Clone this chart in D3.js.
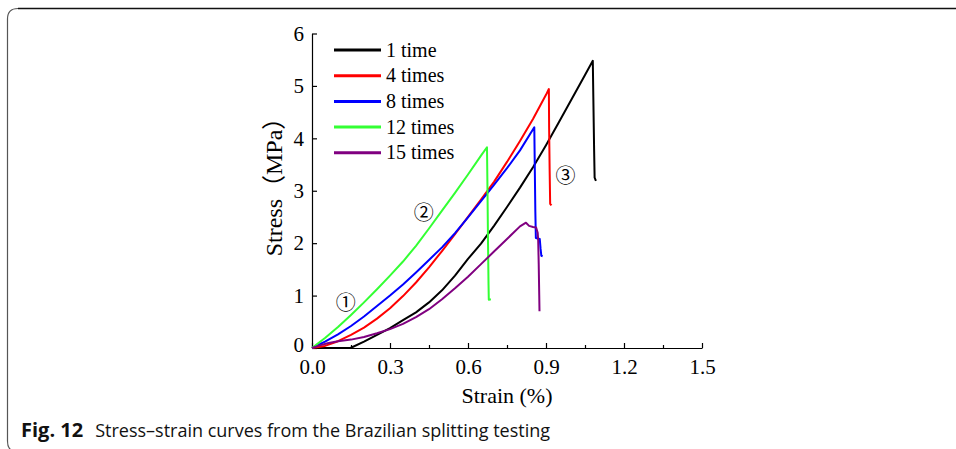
<!DOCTYPE html>
<meta charset="utf-8">
<style>
body { margin: 0; background: #fff; }
.axis text, .axis-title, .legend text { font-family: "Liberation Serif", "Noto Sans CJK SC", serif; fill: #000; }
.axis path, .axis line { stroke: #000; stroke-width: 1.2px; }
.mark { font-family: "Noto Sans CJK SC", "DejaVu Sans", sans-serif; font-size: 20px; fill: #000; }
.caption { font-family: "Open Sans", "Noto Sans", sans-serif; font-size: 18px; fill: #111; }
</style>
<svg width="956" height="449"></svg>
<script src="https://d3js.org/d3.v7.min.js"></script>
<script>
// series: [strain (%), stress (MPa)]
var time1 = [[0,0],[0.148,0],[0.2,0.12],[0.25,0.25],[0.3,0.38],[0.35,0.53],[0.4,0.68],[0.45,0.87],[0.5,1.1],[0.55,1.38],[0.6,1.7],[0.65,1.99],[0.7,2.33],[0.75,2.69],[0.8,3.06],[0.85,3.45],[0.9,3.87],[0.95,4.31],[1.0,4.76],[1.05,5.21],[1.08,5.48],[1.082,4.8],[1.085,3.8],[1.087,3.25],[1.092,3.19]];
var times4 = [[0,0],[0.05,0.04],[0.1,0.13],[0.15,0.25],[0.2,0.39],[0.25,0.56],[0.3,0.76],[0.35,0.99],[0.4,1.25],[0.45,1.54],[0.5,1.85],[0.55,2.17],[0.6,2.5],[0.65,2.83],[0.7,3.17],[0.75,3.55],[0.8,3.95],[0.85,4.37],[0.9,4.83],[0.911,4.94],[0.912,4.2],[0.914,3.4],[0.916,2.75],[0.921,2.72]];
var times8 = [[0,0],[0.05,0.12],[0.1,0.26],[0.15,0.42],[0.2,0.6],[0.25,0.8],[0.3,1.0],[0.35,1.21],[0.4,1.44],[0.45,1.68],[0.5,1.92],[0.55,2.19],[0.6,2.49],[0.65,2.8],[0.7,3.11],[0.75,3.43],[0.8,3.77],[0.855,4.21],[0.857,3.4],[0.859,2.6],[0.861,2.1],[0.876,2.08],[0.879,1.9],[0.882,1.76],[0.887,1.75]];
var times12 = [[0,0],[0.05,0.19],[0.1,0.4],[0.15,0.63],[0.2,0.87],[0.25,1.12],[0.3,1.38],[0.35,1.65],[0.4,1.95],[0.45,2.28],[0.5,2.62],[0.55,2.96],[0.6,3.31],[0.65,3.67],[0.673,3.83],[0.675,3.0],[0.677,2.0],[0.679,1.2],[0.68,0.92],[0.688,0.93]];
var times15 = [[0,0],[0.03,0.05],[0.06,0.09],[0.1,0.13],[0.15,0.16],[0.2,0.21],[0.25,0.28],[0.3,0.36],[0.35,0.46],[0.4,0.59],[0.45,0.74],[0.5,0.93],[0.55,1.14],[0.6,1.36],[0.65,1.6],[0.7,1.84],[0.75,2.08],[0.8,2.32],[0.823,2.39],[0.835,2.33],[0.85,2.31],[0.862,2.3],[0.868,2.2],[0.87,2.05],[0.872,1.6],[0.874,1.0],[0.875,0.7]];

var seriesNames = ["1 time", "4 times", "8 times", "12 times", "15 times"];
var seriesColors = ["#000000", "#ff0000", "#0000ff", "#33ff33", "#800080"];
var seriesData = [time1, times4, times8, times12, times15];

var xTicks = [0, 0.3, 0.6, 0.9, 1.2, 1.5];
var xMinor = [0.15, 0.45, 0.75, 1.05, 1.35];
var yTicks = [0, 1, 2, 3, 4, 5, 6];

// stage labels: [strain, stress, text]
var stageMarks = [[0.13, 0.85, "①"], [0.43, 2.57, "②"], [0.975, 3.28, "③"]];

var svg = d3.select("svg");

// card frame, only top & left edges are inside the picture
svg.append("path")
    .attr("d", "M 7.5 441 V 19 Q 7.5 8.5 18 8.5 H 960")
    .attr("fill", "none")
    .attr("stroke", "#555")
    .attr("stroke-width", 1.2);
svg.append("path")
    .attr("d", "M 7.5 441 Q 7.5 452 18 452")
    .attr("fill", "none")
    .attr("stroke", "#555")
    .attr("stroke-width", 1.2);
svg.append("line")
    .attr("x1", 18).attr("x2", 960)
    .attr("y1", 8.5).attr("y2", 8.5)
    .attr("stroke", "#111")
    .attr("stroke-width", 1.5);

var x = d3.scaleLinear().domain([0, 1.5]).range([312, 702]);
var y = d3.scaleLinear().domain([0, 6]).range([348, 33.5]);

var xAxis = svg.append("g")
    .attr("class", "axis")
    .attr("transform", "translate(0," + y(0) + ")")
    .call(d3.axisBottom(x).tickValues(xTicks).tickSize(-5).tickSizeOuter(0)
      .tickPadding(11).tickFormat(d3.format(".1f")));
xAxis.selectAll("text").attr("font-size", 21);

svg.append("g")
    .attr("class", "axis")
    .attr("transform", "translate(0," + y(0) + ")")
    .call(d3.axisBottom(x).tickValues(xMinor).tickSize(-3).tickSizeOuter(0).tickFormat(""))
    .select(".domain").remove();

var yAxis = svg.append("g")
    .attr("class", "axis")
    .attr("transform", "translate(" + x(0) + ",0)")
    .call(d3.axisLeft(y).tickValues(yTicks).tickSize(-5).tickSizeOuter(0)
      .tickPadding(8).tickFormat(d3.format("d")));
yAxis.selectAll("text").attr("font-size", 21);
// keep the "0" clear of the x labels
yAxis.selectAll(".tick").filter(d => d === 0).select("text").attr("dy", "0.15em");

svg.append("text")
    .attr("class", "axis-title")
    .attr("x", (x(0) + x(1.5)) / 2)
    .attr("y", 403)
    .attr("text-anchor", "middle")
    .attr("font-size", 22)
    .text("Strain (%)");

svg.append("text")
    .attr("class", "axis-title")
    .attr("transform", "translate(282,181) rotate(-90)")
    .attr("text-anchor", "middle")
    .attr("font-size", 24)
    .text("Stress（MPa）");

var line = d3.line()
    .x(d => x(d[0]))
    .y(d => y(d[1]));

svg.append("g")
  .selectAll("path")
  .data(seriesData)
  .enter().append("path")
    .attr("d", line)
    .attr("fill", "none")
    .attr("stroke", (d, i) => seriesColors[i])
    .attr("stroke-width", 2)
    .attr("stroke-linejoin", "round");

var legend = svg.append("g")
    .attr("class", "legend")
  .selectAll("g")
  .data(seriesNames)
  .enter().append("g")
    .attr("transform", (d, i) => "translate(334," + (50 + i * 25.7) + ")");
legend.append("line")
    .attr("x2", 47)
    .attr("stroke", (d, i) => seriesColors[i])
    .attr("stroke-width", 3);
legend.append("text")
    .attr("x", 52)
    .attr("y", 6.5)
    .attr("font-size", 20)
    .text(d => d);

svg.append("g")
  .selectAll("text")
  .data(stageMarks)
  .enter().append("text")
    .attr("class", "mark")
    .attr("x", d => x(d[0]))
    .attr("y", d => y(d[1]))
    .attr("text-anchor", "middle")
    .attr("dy", "0.35em")
    .text(d => d[2]);

var caption = svg.append("text")
    .attr("class", "caption")
    .attr("x", 21)
    .attr("y", 437);
caption.append("tspan").attr("font-weight", "bold").attr("font-size", 20).text("Fig. 12");
caption.append("tspan").attr("dx", 12).text("Stress–strain curves from the Brazilian splitting testing");
</script>
